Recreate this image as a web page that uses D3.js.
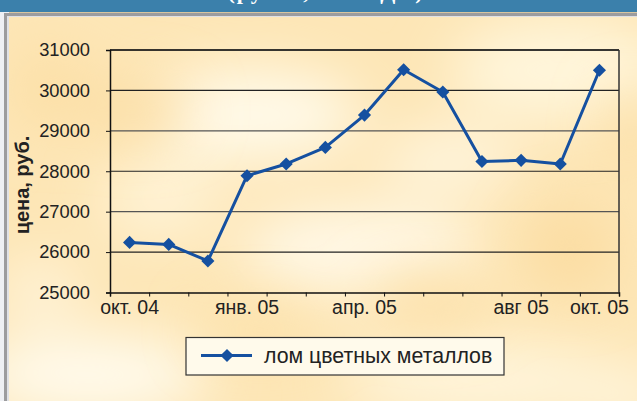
<!DOCTYPE html>
<html><head><meta charset="utf-8">
<script src="https://cdn.jsdelivr.net/npm/d3@7/dist/d3.min.js"></script>
<style>html,body{margin:0;padding:0;background:#fff;}svg{display:block;}</style>
</head><body>
<svg id="c" width="637" height="401"></svg>
<script>
const months = ["окт. 04","ноя. 04","дек. 04","янв. 05","фев. 05","мар. 05","апр. 05","май 05","июн. 05","июл. 05","авг 05","сен. 05","окт. 05"];
const tickLabels = ["окт. 04","","","янв. 05","","","апр. 05","","","","авг 05","","окт. 05"];
const values = [26240, 26190, 25780, 27890, 28180, 28590, 29390, 30510, 29960, 28240, 28270, 28180, 30500];
const yTicks = [25000, 26000, 27000, 28000, 29000, 30000, 31000];
const seriesName = "лом цветных металлов";
const yTitle = "цена, руб.";
const topTitle = "(руб./т, без НДС)";

const svg = d3.select("#c");
const W = 637, H = 401;
const defs = svg.append("defs");

// background
const blur = defs.append("filter").attr("id","bl").attr("x","-50%").attr("y","-50%").attr("width","200%").attr("height","200%");
blur.append("feGaussianBlur").attr("stdDeviation", 28);
const cp = defs.append("clipPath").attr("id","bgclip");
cp.append("rect").attr("x",9).attr("y",17).attr("width",W-9).attr("height",H-17);

svg.append("rect").attr("width",W).attr("height",H).attr("fill","#eef0f4");
const bg = svg.append("g").attr("clip-path","url(#bgclip)");
bg.append("rect").attr("x",9).attr("y",17).attr("width",W).attr("height",H).attr("fill","#fde6b6");
const blobs = [
  [250,115,110,45,"#fffaea"],[560,70,110,50,"#fff6dc"],[360,250,120,45,"#fff8e6"],
  [90,375,120,40,"#fffbee"],[480,380,140,35,"#fff6de"],[160,200,60,40,"#fff3d6"],
  [620,395,60,30,"#fff5dc"],[450,160,70,30,"#fff6e0"],[40,290,40,30,"#fff4dc"]
];
bg.append("g").attr("filter","url(#bl)").selectAll("ellipse").data(blobs).join("ellipse")
  .attr("cx",d=>d[0]).attr("cy",d=>d[1]).attr("rx",d=>d[2]).attr("ry",d=>d[3]).attr("fill",d=>d[4]);
const dark = [[140,110,50,25,"#fbdca0"],[570,250,45,45,"#fbdca0"],[430,300,60,25,"#fcdfa6"],[260,330,60,20,"#fce1a9"],[630,130,20,40,"#fcdda2"],[50,90,40,40,"#fcdfa6"]];
bg.append("g").attr("filter","url(#bl)").selectAll("ellipse").data(dark).join("ellipse")
  .attr("cx",d=>d[0]).attr("cy",d=>d[1]).attr("rx",d=>d[2]).attr("ry",d=>d[3]).attr("fill",d=>d[4]);

// frame
svg.append("rect").attr("x",0).attr("y",0).attr("width",W).attr("height",12).attr("fill","#3b80ab");
svg.append("rect").attr("x",9).attr("y",12).attr("width",W).attr("height",1).attr("fill","#d9c6a0");
svg.append("rect").attr("x",4).attr("y",13).attr("width",W).attr("height",3).attr("fill","#9c9c9e");
svg.append("rect").attr("x",4).attr("y",13).attr("width",3).attr("height",H).attr("fill","#9c9c9e");
svg.append("rect").attr("x",7).attr("y",16).attr("width",2).attr("height",H).attr("fill","#dfe1e6");
svg.append("rect").attr("x",7).attr("y",16).attr("width",W).attr("height",1).attr("fill","#dfe1e6");
const tc = defs.append("clipPath").attr("id","tclip");
tc.append("rect").attr("x",0).attr("y",0).attr("width",W).attr("height",12);
svg.append("text").attr("clip-path","url(#tclip)").attr("x",326).attr("y",-1)
  .attr("text-anchor","middle").attr("fill","#fff").attr("font-family","Liberation Serif, serif")
  .attr("font-weight","bold").attr("font-size",22).attr("letter-spacing",2).text(topTitle);

// scales
const L = 110, R = 619, T = 50, B = 292.5;
const x = d3.scaleBand().domain(months).range([L, R]).padding(0);
const xi = d3.scaleLinear().domain([0, months.length]).range([L, R]);
const y = d3.scaleLinear().domain([25000, 31000]).range([B, T]);

// gridlines
svg.append("g").selectAll("line").data(yTicks.slice(1)).join("line")
  .attr("x1",L).attr("x2",R).attr("y1",d=>y(d)).attr("y2",d=>y(d))
  .attr("stroke",(d,i)=>i%2? "#555":"#222").attr("stroke-width",1.2);
svg.append("line").attr("x1",L).attr("x2",R).attr("y1",T).attr("y2",T).attr("stroke","#111").attr("stroke-width",1.5);
svg.append("line").attr("x1",R).attr("x2",R).attr("y1",T).attr("y2",B).attr("stroke","#333").attr("stroke-width",1.5);

const font = "Liberation Sans, Arial, sans-serif";
// y axis
const ya = svg.append("g").attr("transform",`translate(${L},0)`)
  .call(d3.axisLeft(y).tickValues(yTicks).tickSize(4).tickPadding(16).tickFormat(d3.format("d")));
ya.select(".domain").attr("stroke","#111").attr("stroke-width",1.5);
ya.selectAll(".tick line").attr("stroke","#111");
ya.selectAll("text").attr("font-family",font).attr("font-size",18.3).attr("fill","#222");

// x axis
const xa = svg.append("g").attr("transform",`translate(0,${B})`)
  .call(d3.axisBottom(xi).tickValues(d3.range(months.length+1)).tickSize(4).tickFormat(""));
xa.select(".domain").attr("stroke","#111").attr("stroke-width",1.5);
xa.selectAll(".tick line").attr("stroke","#111");
svg.append("g").selectAll("text").data(months).join("text")
  .attr("x",d=>x(d)+x.bandwidth()/2).attr("y",B+21)
  .attr("text-anchor","middle").attr("font-family",font).attr("font-size",19.5).attr("fill","#222")
  .text((d,i)=>tickLabels[i]);

// y title
svg.append("text").attr("transform",`translate(29,185) rotate(-90)`)
  .attr("text-anchor","middle").attr("font-family",font).attr("font-weight","bold")
  .attr("font-size",20).attr("fill","#222").text(yTitle);

// line
const color = "#1550a0";
const line = d3.line().x((d,i)=>x(months[i])+x.bandwidth()/2).y(d=>y(d));
svg.append("path").datum(values).attr("d",line).attr("fill","none").attr("stroke",color).attr("stroke-width",3).attr("stroke-linejoin","round");
const diamond = d3.symbol().type(d3.symbolDiamond2).size(110);
svg.append("g").selectAll("path").data(values).join("path")
  .attr("transform",(d,i)=>`translate(${x(months[i])+x.bandwidth()/2},${y(d)})`)
  .attr("d",diamond).attr("fill",color);

// legend
const lg = svg.append("g");
lg.append("rect").attr("x",186).attr("y",337.5).attr("width",318).attr("height",37.5)
  .attr("fill","#fffaeb").attr("stroke","#333").attr("stroke-width",1.2);
lg.append("line").attr("x1",201).attr("x2",252).attr("y1",355.5).attr("y2",355.5).attr("stroke",color).attr("stroke-width",3);
lg.append("path").attr("transform","translate(227,355.5)").attr("d",diamond).attr("fill",color);
lg.append("text").attr("x",264).attr("y",363).attr("font-family",font).attr("font-size",21.3).attr("fill","#222").text(seriesName);
</script>
</body></html>
